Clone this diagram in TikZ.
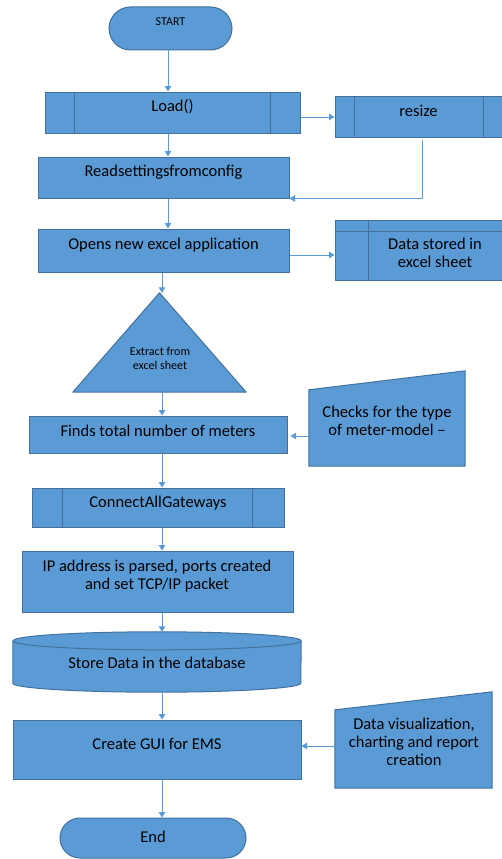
\documentclass[tikz,border=0pt]{standalone}
\usepackage{fontspec}
\setmainfont{Carlito}
\usetikzlibrary{arrows.meta,calc}
\definecolor{boxfill}{HTML}{5B9BD5}
\definecolor{boxline}{HTML}{41719C}
\definecolor{arrcol}{HTML}{5B9BD5}
\begin{document}
\begin{tikzpicture}[x=1pt,y=-1pt,
  box/.style={draw=boxline, fill=boxfill, line width=1pt, inner sep=0pt, rectangle},
  frame/.style={inner sep=0pt, rectangle},
  shapeline/.style={draw=boxline, fill=boxfill, line width=1pt, line join=round},
  innerline/.style={draw=boxline, line width=1pt},
  txt/.style={font=\fontsize{16.5}{18}\selectfont, align=center, inner sep=0pt, text=black},
  small/.style={font=\fontsize{12}{14}\selectfont, align=center, inner sep=0pt, text=black},
  arr/.style={draw=arrcol, line width=1pt, -{Triangle[width=6.5pt,length=5.5pt]}}]

\fill[white] (0,0) rectangle (501,859);
\useasboundingbox (0,0) rectangle (501,859);

% ---------- START ----------
\node[box, rounded corners=21.5pt, minimum width=123pt, minimum height=43pt] (start) at (170.5,28.5) {};
\node[small, yshift=6.5pt] (start-t) at (start) {START};

% ---------- Load() ----------
\node[box, minimum width=255pt, minimum height=41pt] (load) at (172.5,112.5) {};
\draw[innerline] ([xshift=30pt]load.north west) -- ([xshift=30pt]load.south west);
\draw[innerline] ([xshift=-30pt]load.north east) -- ([xshift=-30pt]load.south east);
\node[txt, yshift=5.5pt] (load-t) at (load) {Load()};

% ---------- resize ----------
\node[box, minimum width=167pt, minimum height=41pt] (resize) at (418.5,116.5) {};
\draw[innerline] ([xshift=20pt]resize.north west) -- ([xshift=20pt]resize.south west);
\draw[innerline] ([xshift=-19.5pt]resize.north east) -- ([xshift=-19.5pt]resize.south east);
\node[txt, yshift=5.5pt] (resize-t) at (resize) {resize};

% ---------- Readsettingsfromconfig ----------
\node[box, minimum width=251pt, minimum height=41pt] (read) at (163.5,177.5) {};
\node[txt, yshift=5.5pt] (read-t) at (read) {Readsettingsfromconfig};

% ---------- Opens new excel application ----------
\node[box, minimum width=251pt, minimum height=43pt] (opens) at (163.5,250.5) {};
\node[txt, yshift=5.5pt] (opens-t) at (opens) {Opens new excel application};

% ---------- Data stored in excel sheet ----------
\node[box, minimum width=167pt, minimum height=60pt] (data) at (418.5,250) {};
\draw[innerline] ([yshift=-12pt]data.north west) -- ([yshift=-12pt]data.north east);
\draw[innerline] ([xshift=34pt]data.north west) -- ([xshift=34pt]data.south west);
\node[txt] (data-t) at (435,253) {Data stored in\\excel sheet};

% ---------- Triangle ----------
\node[frame, minimum width=173pt, minimum height=99pt] (tri) at (159.5,342.5) {};
\draw[shapeline] (tri.south west) -- (tri.north) -- (tri.south east) -- cycle;
\node[small] (tri-t) at (160,358) {Extract from\\excel sheet};

% ---------- Finds total number of meters ----------
\node[box, minimum width=258pt, minimum height=37pt] (finds) at (158,434.5) {};
\node[txt, yshift=3.5pt] (finds-t) at (finds) {Finds total number of meters};

% ---------- Checks (manual input) ----------
\node[frame, minimum width=156pt, minimum height=95pt] (checks) at (387,418.5) {};
\draw[shapeline] (checks.south west) -- (checks.south east) -- (checks.north east) -- ([yshift=-19pt]checks.north west) -- cycle;
\node[txt] (checks-t) at (387,421) {Checks for the type\\of meter-model –};

% ---------- ConnectAllGateways ----------
\node[box, minimum width=252pt, minimum height=39pt] (conn) at (158,507.5) {};
\draw[innerline] ([xshift=31pt]conn.north west) -- ([xshift=31pt]conn.south west);
\draw[innerline] ([xshift=-32pt]conn.north east) -- ([xshift=-32pt]conn.south east);
\node[txt, yshift=4.5pt] (conn-t) at (conn) {ConnectAllGateways};

% ---------- IP address ----------
\node[box, minimum width=271pt, minimum height=61pt] (ip) at (157.5,581.5) {};
\node[txt] (ip-t) at (157,576.5) {IP address is parsed, ports created\\and set TCP/IP packet};

% ---------- Database cylinder ----------
\node[frame, minimum width=288pt, minimum height=60pt] (db) at (157,662) {};
\draw[shapeline] ([yshift=-9pt]db.north west) -- ([yshift=9pt]db.south west)
  arc[start angle=180, end angle=360, x radius=144pt, y radius=9pt]
  -- ([yshift=-9pt]db.north east)
  arc[start angle=0, end angle=180, x radius=144pt, y radius=9pt] -- cycle;
\draw[innerline] ([yshift=-9pt]db.north west) arc[start angle=180, end angle=360, x radius=144pt, y radius=9pt];
\node[txt] (db-t) at (157,663) {Store Data in the database};

% ---------- Create GUI for EMS ----------
\node[box, minimum width=288pt, minimum height=59pt] (gui) at (157,749.5) {};
\node[txt, yshift=5.5pt] (gui-t) at (gui) {Create GUI for EMS};

% ---------- Data visualization (manual input) ----------
\node[frame, minimum width=157pt, minimum height=96pt] (vis) at (413.5,740) {};
\draw[shapeline] (vis.south west) -- (vis.south east) -- (vis.north east) -- ([yshift=-18pt]vis.north west) -- cycle;
\node[txt] (vis-t) at (414,742) {Data visualization,\\charting and report\\creation};

% ---------- End ----------
\node[box, rounded corners=20pt, minimum width=186pt, minimum height=40pt] (end) at (153,838) {};
\node[txt] (end-t) at (153,837) {End};

% ---------- Connectors ----------
\coordinate (cA) at (168,0);
\coordinate (cB) at (162,0);
\coordinate (cC) at (422,0);
\coordinate (r1) at (0,117);
\coordinate (r2) at (0,255);
\coordinate (r3) at (0,436);
\coordinate (r4) at (0,746);

\draw[arr] (start.south -| cA) -- (load.north -| cA);
\draw[arr] (load.south -| cA) -- (read.north -| cA);
\draw[arr] (read.south -| cA) -- (opens.north -| cA);
\draw[arr] (opens.south -| cB) -- (tri.north -| cB);
\draw[arr] (tri.south -| cB) -- (finds.north -| cB);
\draw[arr] (finds.south -| cB) -- (conn.north -| cB);
\draw[arr] (conn.south -| cB) -- (ip.north -| cB);
\draw[arr] (ip.south -| cB) -- (db.north -| cB);
\draw[arr] (db.south -| cB) -- (gui.north -| cB);
\draw[arr] (gui.south -| cB) -- (end.north -| cB);

\draw[arr] (load.east |- r1) -- (resize.west |- r1);
\draw[arr] ([yshift=-2pt]resize.south -| cC) |- (read.south east);
\draw[arr] (opens.east |- r2) -- (data.west |- r2);
\draw[arr] (checks.west |- r3) -- ([xshift=3pt]finds.east |- r3);
\draw[arr] (vis.west |- r4) -- (gui.east |- r4);
\end{tikzpicture}
\end{document}
